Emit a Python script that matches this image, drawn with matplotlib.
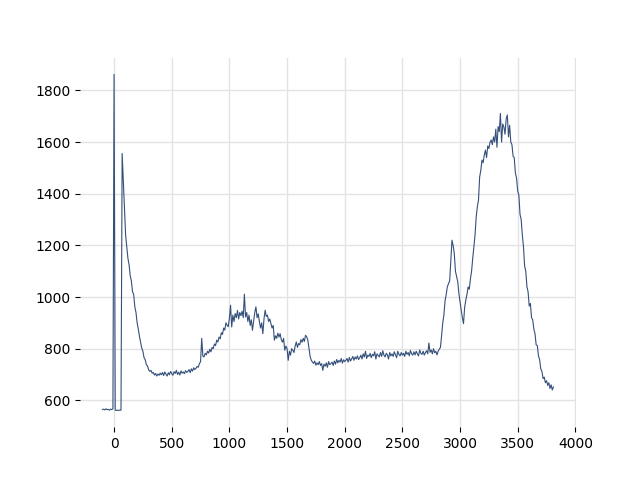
import numpy as np
import matplotlib
matplotlib.use("Agg")
import matplotlib.pyplot as plt

# wavenumber grid, one reading every 10 units
x_start = -100
x_step = 10

# intensity readings (first one at -100, then 10 per row from -90)
intensity = [
    564,
    566, 563, 567, 564, 565, 562, 566, 564, 568, 1862,
    562, 561, 562, 561, 562, 562, 1556, 1450, 1335, 1240,
    1195, 1150, 1125, 1082, 1062, 1020, 1010, 962, 940, 900,
    876, 848, 825, 802, 790, 765, 757, 738, 733, 718,
    712, 716, 705, 708, 698, 704, 694, 702, 697, 705,
    699, 708, 696, 710, 701, 694, 707, 699, 712, 703,
    697, 711, 704, 716, 700, 709, 698, 714, 705, 710,
    703, 715, 708, 712, 719, 707, 722, 713, 726, 719,
    724, 731, 728, 742, 750, 840, 771, 768, 782, 776,
    790, 783, 798, 788, 805, 800, 818, 812, 833, 826,
    845, 838, 862, 855, 880, 872, 900, 891, 885, 917,
    968, 884, 930, 905, 936, 920, 948, 915, 940, 928,
    945, 920, 1011, 923, 940, 905, 930, 890, 912, 871,
    905, 940, 962, 920, 935, 905, 880, 900, 858, 915,
    949, 925, 930, 905, 915, 897, 880, 890, 833, 850,
    840, 860, 845, 858, 835, 825, 840, 794, 810, 800,
    755, 790, 775, 800, 794, 785, 810, 826, 805, 820,
    815, 835, 825, 840, 828, 852, 846, 833, 800, 770,
    755, 748, 743, 752, 736, 745, 738, 750, 735, 742,
    716, 740, 732, 745, 728, 750, 738, 742, 748, 735,
    752, 740, 758, 745, 755, 748, 762, 744, 757, 750,
    755, 762, 748, 766, 752, 760, 770, 755, 768, 760,
    772, 758, 765, 775, 760, 780, 768, 790, 762, 775,
    770, 782, 765, 778, 772, 788, 760, 780, 774, 768,
    785, 770, 792, 775, 768, 782, 776, 760, 785, 772,
    780, 770, 788, 776, 765, 790, 778, 772, 785, 775,
    782, 770, 790, 778, 785, 772, 793, 780, 775, 788,
    776, 790, 780, 772, 795, 782, 778, 790, 775, 785,
    792, 780, 822, 786, 795, 780, 800, 784, 790, 776,
    790, 798, 805, 850, 900, 930, 985, 1010, 1040, 1052,
    1062, 1140, 1220, 1200, 1169, 1100, 1080, 1060, 1013, 980,
    950, 920, 897, 960, 988, 1010, 1039, 1030, 1070, 1100,
    1150, 1194, 1240, 1310, 1350, 1375, 1465, 1490, 1530, 1520,
    1550, 1569, 1540, 1585, 1575, 1600, 1608, 1590, 1620, 1600,
    1650, 1580, 1660, 1640, 1711, 1600, 1670, 1659, 1630, 1690,
    1705, 1620, 1665, 1600, 1590, 1545, 1540, 1480, 1460, 1410,
    1395, 1320, 1300, 1240, 1195, 1120, 1100, 1040, 1020, 965,
    975, 920, 912, 876, 858, 815, 812, 772, 758, 722,
    712, 684, 690, 668, 676, 658, 668, 646, 660, 640,
    652,
]

y = np.array(intensity)
x = x_start + x_step * np.arange(len(y))

fig, ax = plt.subplots(figsize=(6.4, 4.8), dpi=100)
ax.plot(x, y, color="#34507a", linewidth=0.8)
ax.grid(True, color="#e3e3e3", linewidth=1)
ax.set_axisbelow(True)
for s in ax.spines.values():
    s.set_visible(False)
ax.set_xticks([0, 500, 1000, 1500, 2000, 2500, 3000, 3500, 4000])
ax.set_yticks([600, 800, 1000, 1200, 1400, 1600, 1800])

fig.savefig("out.png")
